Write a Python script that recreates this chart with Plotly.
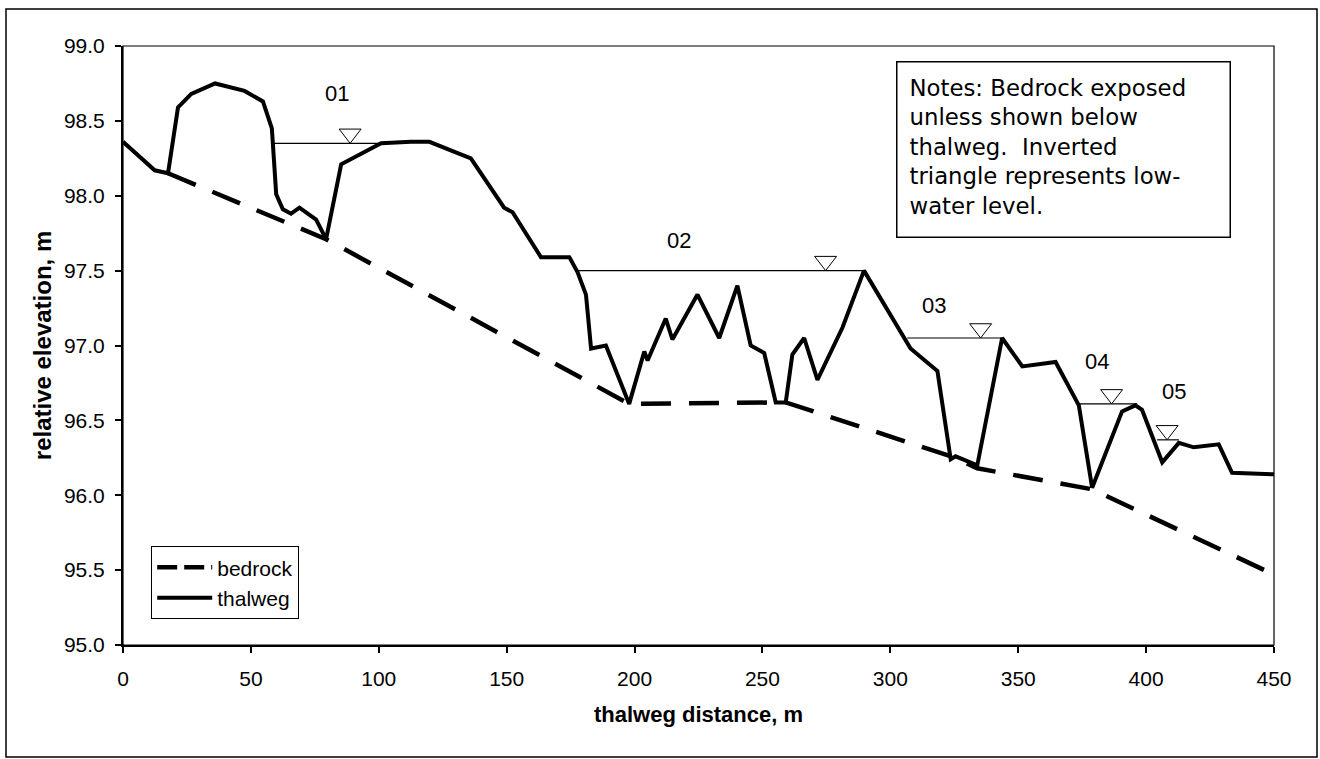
import plotly.graph_objects as go

# ---------------- data ----------------
thalweg_x = [0, 12.4, 17.6, 21.5, 26.7, 36.0, 47.5, 54.7, 58.2, 59.9, 62.5, 65.7, 69.0,
             75.5, 79.4, 85.3, 93.1, 100.9, 112.6, 119.8, 136.0, 149.0, 152.3, 163.4,
             174.5, 177.7, 181.0, 183.0, 188.8, 197.9, 203.8, 205.1, 212.2, 214.8,
             224.6, 233.1, 240.2, 245.4, 250.7, 255.2, 259.1, 261.7, 266.3, 271.5,
             281.3, 289.7, 307.9, 318.4, 323.6, 325.5, 334.0, 343.7, 351.6, 364.6,
             373.7, 378.9, 390.6, 395.8, 398.4, 406.3, 412.8, 418.6, 428.4, 433.6, 450.0]
thalweg_y = [98.36, 98.17, 98.15, 98.59, 98.68, 98.75, 98.70, 98.63, 98.45, 98.01, 97.91,
             97.88, 97.92, 97.84, 97.71, 98.21, 98.28, 98.35, 98.36, 98.36, 98.25, 97.92,
             97.89, 97.59, 97.59, 97.49, 97.34, 96.98, 97.00, 96.61, 96.96, 96.90, 97.18,
             97.04, 97.34, 97.05, 97.40, 97.00, 96.95, 96.62, 96.62, 96.94, 97.05, 96.77,
             97.12, 97.50, 96.98, 96.83, 96.24, 96.26, 96.20, 97.05, 96.86, 96.89, 96.60,
             96.05, 96.56, 96.60, 96.57, 96.22, 96.35, 96.32, 96.34, 96.15, 96.14]

bedrock_x = [17.6, 79.4, 197.9, 259.1, 323.6, 334.0, 378.9, 450.0]
bedrock_y = [98.15, 97.71, 96.61, 96.62, 96.26, 96.18, 96.04, 95.47]

pool_labels = ["01", "02", "03", "04", "05"]
pool_level = [98.35, 97.50, 97.05, 96.61, 96.37]
pool_start = [58.6, 177.7, 306.6, 373.7, 404.3]
pool_end = [101.0, 289.7, 343.7, 396.5, 412.8]
triangle_x = [88.8, 274.7, 335.3, 386.5, 408.2]
label_x = [83.7, 217.5, 317.1, 380.9, 410.8]
label_y = [98.68, 97.70, 97.27, 96.89, 96.69]

x_ticks = [0, 50, 100, 150, 200, 250, 300, 350, 400, 450]
y_ticks = [95.0, 95.5, 96.0, 96.5, 97.0, 97.5, 98.0, 98.5, 99.0]

notes_text = ("Notes: Bedrock exposed<br>unless shown below<br>"
              "thalweg.&nbsp; Inverted<br>triangle represents low-<br>water level.")

# ---------------- layout geometry ----------------
W, H = 1320, 759
ML, MR, MT, MB = 123, 46, 46, 114
plot_h = H - MT - MB
plot_w = W - ML - MR
Y_MIN, Y_MAX = 95.0, 99.0
TRI_SIZE = 19
tri_offset = (TRI_SIZE / 2) / (plot_h / (Y_MAX - Y_MIN))

FONT = "Liberation Sans, Arial, sans-serif"

fig = go.Figure()

# bedrock
fig.add_trace(go.Scatter(x=bedrock_x, y=bedrock_y, mode="lines", name="bedrock",
                         line=dict(color="black", width=4.5, dash="30px,18px"),
                         showlegend=False))
# thalweg
fig.add_trace(go.Scatter(x=thalweg_x, y=thalweg_y, mode="lines", name="thalweg",
                         line=dict(color="black", width=4), showlegend=False))

# low-water lines
wx, wy = [], []
for s, e, lv in zip(pool_start, pool_end, pool_level):
    wx += [s, e, None]
    wy += [lv, lv, None]
fig.add_trace(go.Scatter(x=wx, y=wy, mode="lines", line=dict(color="black", width=1.2),
                         showlegend=False, hoverinfo="skip"))

# inverted triangles (apex touching the water level)
fig.add_trace(go.Scatter(x=triangle_x, y=[lv + tri_offset for lv in pool_level],
                         mode="markers", showlegend=False,
                         marker=dict(symbol="triangle-down", size=TRI_SIZE, color="white",
                                     line=dict(color="black", width=1))))

# legend entries
fig.add_trace(go.Scatter(x=[None], y=[None], mode="lines", name="bedrock",
                         line=dict(color="black", width=4.5, dash="20px,7px")))
fig.add_trace(go.Scatter(x=[None], y=[None], mode="lines", name="thalweg",
                         line=dict(color="black", width=4)))

annotations = []
for t, lx, ly in zip(pool_labels, label_x, label_y):
    annotations.append(dict(x=lx, y=ly, xref="x", yref="y", text=t, showarrow=False,
                            xanchor="center", yanchor="middle",
                            font=dict(family=FONT, size=22, color="black")))

annotations.append(dict(x=(896 - ML) / plot_w, y=(H - MB - 61) / plot_h,
                        xref="paper", yref="paper", xanchor="left", yanchor="top",
                        text=notes_text, showarrow=False, align="left", valign="top",
                        width=308, height=150, borderpad=12, borderwidth=1.5,
                        bordercolor="black", bgcolor="white",
                        font=dict(family="DejaVu Sans, Verdana, sans-serif", size=22.8,
                                  color="black")))

shapes = [
    # plot-area border (top/right)
    dict(type="rect", xref="paper", yref="paper", x0=0, y0=0, x1=1, y1=1,
         line=dict(color="black", width=1.2), layer="above"),
    # outer chart border
    dict(type="rect", xref="paper", yref="paper",
         x0=(6 - ML) / plot_w, x1=(1317 - ML) / plot_w,
         y0=(H - MB - 757) / plot_h, y1=(H - MB - 9) / plot_h,
         line=dict(color="black", width=1.5)),
]

fig.update_layout(
    width=W, height=H,
    margin=dict(l=ML, r=MR, t=MT, b=MB),
    paper_bgcolor="white", plot_bgcolor="white",
    font=dict(family=FONT, size=21, color="black"),
    annotations=annotations, shapes=shapes,
    legend=dict(x=(151 - ML) / plot_w, y=(H - MB - 546) / plot_h,
                xanchor="left", yanchor="top",
                bordercolor="black", borderwidth=1.2, bgcolor="white",
                font=dict(family=FONT, size=21, color="black"),
                itemwidth=55, tracegroupgap=0),
    xaxis=dict(range=[0, 450], tickvals=x_ticks, ticktext=[str(v) for v in x_ticks],
               showgrid=False, zeroline=False, showline=True, linecolor="black",
               linewidth=2, ticks="outside", ticklen=6, tickwidth=1.5, tickcolor="black",
               ticklabelstandoff=8,
               title=dict(text="thalweg distance, m", standoff=17,
                          font=dict(family=FONT, size=22, weight="bold"))),
    yaxis=dict(range=[Y_MIN, Y_MAX], tickvals=y_ticks,
               ticktext=[f"{v:.1f}" for v in y_ticks],
               showgrid=False, zeroline=False, showline=True, linecolor="black",
               linewidth=2, ticks="outside", ticklen=6, tickwidth=1.5, tickcolor="black",
               ticklabelstandoff=6,
               title=dict(text="relative elevation, m", standoff=6,
                          font=dict(family=FONT, size=24, weight="bold"))),
)

fig.write_html("out.html")
